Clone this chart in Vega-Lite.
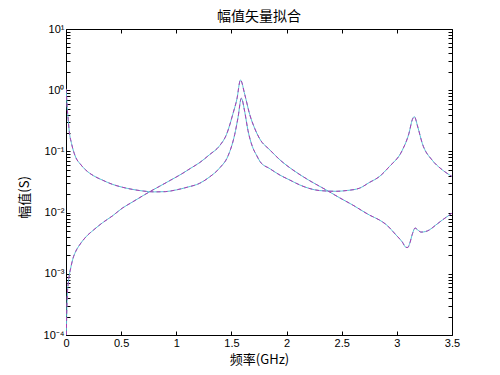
{
  "$schema": "https://vega.github.io/schema/vega-lite/v6.json",
  "width": 386,
  "height": 306,
  "autosize": {"type": "none"},
  "padding": {"left": 66, "top": 29, "right": 48, "bottom": 40},
  "background": "white",
  "title": {"text": "幅值矢量拟合", "font": "Noto Sans CJK SC", "fontSize": 14, "fontWeight": "normal", "color": "black", "offset": 1, "anchor": "middle", "baseline": "bottom", "dy": 16},
  "data": {"values": [
    {"c": "A", "f": 0, "v": 1.05},
    {"c": "A", "f": 0.005, "v": 0.8},
    {"c": "A", "f": 0.01, "v": 0.55},
    {"c": "A", "f": 0.02, "v": 0.33},
    {"c": "A", "f": 0.03, "v": 0.21},
    {"c": "A", "f": 0.05, "v": 0.135},
    {"c": "A", "f": 0.087, "v": 0.081},
    {"c": "A", "f": 0.13, "v": 0.062},
    {"c": "A", "f": 0.177, "v": 0.05},
    {"c": "A", "f": 0.25, "v": 0.04},
    {"c": "A", "f": 0.33, "v": 0.034},
    {"c": "A", "f": 0.42, "v": 0.029},
    {"c": "A", "f": 0.51, "v": 0.026},
    {"c": "A", "f": 0.6, "v": 0.024},
    {"c": "A", "f": 0.7, "v": 0.0225},
    {"c": "A", "f": 0.8, "v": 0.0218},
    {"c": "A", "f": 0.9, "v": 0.022},
    {"c": "A", "f": 1.0, "v": 0.0235},
    {"c": "A", "f": 1.1, "v": 0.026},
    {"c": "A", "f": 1.21, "v": 0.03},
    {"c": "A", "f": 1.3, "v": 0.038},
    {"c": "A", "f": 1.395, "v": 0.054},
    {"c": "A", "f": 1.47, "v": 0.085},
    {"c": "A", "f": 1.53, "v": 0.19},
    {"c": "A", "f": 1.56, "v": 0.36},
    {"c": "A", "f": 1.59, "v": 0.74},
    {"c": "A", "f": 1.62, "v": 0.45},
    {"c": "A", "f": 1.65, "v": 0.22},
    {"c": "A", "f": 1.69, "v": 0.12},
    {"c": "A", "f": 1.73, "v": 0.085},
    {"c": "A", "f": 1.76, "v": 0.068},
    {"c": "A", "f": 1.85, "v": 0.052},
    {"c": "A", "f": 1.94, "v": 0.041},
    {"c": "A", "f": 2.03, "v": 0.034},
    {"c": "A", "f": 2.12, "v": 0.0283},
    {"c": "A", "f": 2.2, "v": 0.025},
    {"c": "A", "f": 2.3, "v": 0.0229},
    {"c": "A", "f": 2.45, "v": 0.0223},
    {"c": "A", "f": 2.55, "v": 0.023},
    {"c": "A", "f": 2.66, "v": 0.025},
    {"c": "A", "f": 2.75, "v": 0.031},
    {"c": "A", "f": 2.84, "v": 0.0386},
    {"c": "A", "f": 2.93, "v": 0.056},
    {"c": "A", "f": 3.05, "v": 0.105},
    {"c": "A", "f": 3.11, "v": 0.198},
    {"c": "A", "f": 3.14, "v": 0.33},
    {"c": "A", "f": 3.158, "v": 0.37},
    {"c": "A", "f": 3.19, "v": 0.25},
    {"c": "A", "f": 3.23, "v": 0.136},
    {"c": "A", "f": 3.32, "v": 0.072},
    {"c": "A", "f": 3.4, "v": 0.052},
    {"c": "A", "f": 3.5, "v": 0.039},
    {"c": "B", "f": 0.003, "v": 0.0001},
    {"c": "B", "f": 0.006, "v": 0.0002},
    {"c": "B", "f": 0.012, "v": 0.00045},
    {"c": "B", "f": 0.02, "v": 0.0007},
    {"c": "B", "f": 0.03, "v": 0.00095},
    {"c": "B", "f": 0.045, "v": 0.0013},
    {"c": "B", "f": 0.06, "v": 0.0017},
    {"c": "B", "f": 0.087, "v": 0.0023},
    {"c": "B", "f": 0.12, "v": 0.0029},
    {"c": "B", "f": 0.18, "v": 0.004},
    {"c": "B", "f": 0.25, "v": 0.0052},
    {"c": "B", "f": 0.33, "v": 0.0068},
    {"c": "B", "f": 0.42, "v": 0.0088},
    {"c": "B", "f": 0.51, "v": 0.0118},
    {"c": "B", "f": 0.6, "v": 0.0148},
    {"c": "B", "f": 0.7, "v": 0.019},
    {"c": "B", "f": 0.76, "v": 0.022},
    {"c": "B", "f": 0.85, "v": 0.027},
    {"c": "B", "f": 0.95, "v": 0.034},
    {"c": "B", "f": 1.05, "v": 0.043},
    {"c": "B", "f": 1.13, "v": 0.053},
    {"c": "B", "f": 1.214, "v": 0.066},
    {"c": "B", "f": 1.3, "v": 0.088},
    {"c": "B", "f": 1.395, "v": 0.125},
    {"c": "B", "f": 1.456, "v": 0.19},
    {"c": "B", "f": 1.515, "v": 0.42},
    {"c": "B", "f": 1.55, "v": 0.72},
    {"c": "B", "f": 1.582, "v": 1.47},
    {"c": "B", "f": 1.621, "v": 0.85},
    {"c": "B", "f": 1.666, "v": 0.4},
    {"c": "B", "f": 1.71, "v": 0.24},
    {"c": "B", "f": 1.757, "v": 0.16},
    {"c": "B", "f": 1.85, "v": 0.105},
    {"c": "B", "f": 1.95, "v": 0.07},
    {"c": "B", "f": 2.058, "v": 0.0497},
    {"c": "B", "f": 2.2, "v": 0.034},
    {"c": "B", "f": 2.36, "v": 0.0234},
    {"c": "B", "f": 2.48, "v": 0.0175},
    {"c": "B", "f": 2.6, "v": 0.0133},
    {"c": "B", "f": 2.752, "v": 0.0091},
    {"c": "B", "f": 2.84, "v": 0.0076},
    {"c": "B", "f": 2.902, "v": 0.0064},
    {"c": "B", "f": 2.993, "v": 0.0043},
    {"c": "B", "f": 3.05, "v": 0.0033},
    {"c": "B", "f": 3.083, "v": 0.0027},
    {"c": "B", "f": 3.1, "v": 0.0027},
    {"c": "B", "f": 3.113, "v": 0.003},
    {"c": "B", "f": 3.143, "v": 0.0046},
    {"c": "B", "f": 3.165, "v": 0.0056},
    {"c": "B", "f": 3.19, "v": 0.0052},
    {"c": "B", "f": 3.219, "v": 0.0048},
    {"c": "B", "f": 3.26, "v": 0.0049},
    {"c": "B", "f": 3.294, "v": 0.0052},
    {"c": "B", "f": 3.35, "v": 0.0062},
    {"c": "B", "f": 3.414, "v": 0.0076},
    {"c": "B", "f": 3.5, "v": 0.0098}
  ]},
  "config": {
    "view": {"stroke": null},
    "axis": {
      "grid": false,
      "domainColor": "black",
      "tickColor": "black",
      "labelColor": "black",
      "labelFont": "Liberation Sans",
      "labelFontSize": 11,
      "titleFont": "Noto Sans CJK SC",
      "titleFontSize": 13,
      "titleFontWeight": "normal",
      "titleColor": "black",
      "tickSize": -4,
      "domainWidth": 1,
      "tickWidth": 1,
      "labelFlush": false,
      "labelOverlap": false
    }
  },
  "layer": [
    {
      "mark": {"type": "line", "color": "#55c4d4", "strokeWidth": 1, "interpolate": "monotone", "clip": true},
      "encoding": {
        "x": {"field": "f", "type": "quantitative", "scale": {"domain": [0, 3.5], "nice": false, "zero": false},
              "axis": {"orient": "bottom", "values": [0, 0.5, 1, 1.5, 2, 2.5, 3, 3.5], "format": "~g", "title": "频率(GHz)", "labelPadding": 6, "titlePadding": 5}},
        "y": {"field": "v", "type": "quantitative", "scale": {"type": "log", "domain": [0.0001, 10], "nice": false},
              "axis": {"orient": "left", "title": "幅值(S)", "labelPadding": 6, "titlePadding": 12, "titleY": 168,
                       "values": [0.0001,0.0002,0.0003,0.0004,0.0005,0.0006,0.0007,0.0008,0.0009,0.001,0.002,0.003,0.004,0.005,0.006,0.007,0.008,0.009,0.01,0.02,0.03,0.04,0.05,0.06,0.07,0.08,0.09,0.1,0.2,0.3,0.4,0.5,0.6,0.7,0.8,0.9,1,2,3,4,5,6,7,8,9,10],
                       "labelExpr": "abs(datum.value / pow(10, round(log(datum.value) / LN10)) - 1) < 0.001 ? '10' + ['⁻⁴','⁻³','⁻²','⁻¹','⁰','¹'][round(log(datum.value) / LN10) + 4] : ''"}},
        "detail": {"field": "c"}
      }
    },
    {
      "mark": {"type": "line", "color": "#b03cb4", "strokeWidth": 1, "strokeDash": [4, 3], "interpolate": "monotone", "clip": true},
      "encoding": {
        "x": {"field": "f", "type": "quantitative", "scale": {"domain": [0, 3.5], "nice": false, "zero": false},
              "axis": {"orient": "top", "values": [0, 0.5, 1, 1.5, 2, 2.5, 3, 3.5], "labels": false, "title": null}},
        "y": {"field": "v", "type": "quantitative", "scale": {"type": "log", "domain": [0.0001, 10], "nice": false},
              "axis": {"orient": "right", "labels": false, "title": null,
                       "values": [0.0001,0.0002,0.0003,0.0004,0.0005,0.0006,0.0007,0.0008,0.0009,0.001,0.002,0.003,0.004,0.005,0.006,0.007,0.008,0.009,0.01,0.02,0.03,0.04,0.05,0.06,0.07,0.08,0.09,0.1,0.2,0.3,0.4,0.5,0.6,0.7,0.8,0.9,1,2,3,4,5,6,7,8,9,10]}},
        "detail": {"field": "c"}
      }
    }
  ],
  "resolve": {"axis": {"x": "independent", "y": "independent"}}
}
